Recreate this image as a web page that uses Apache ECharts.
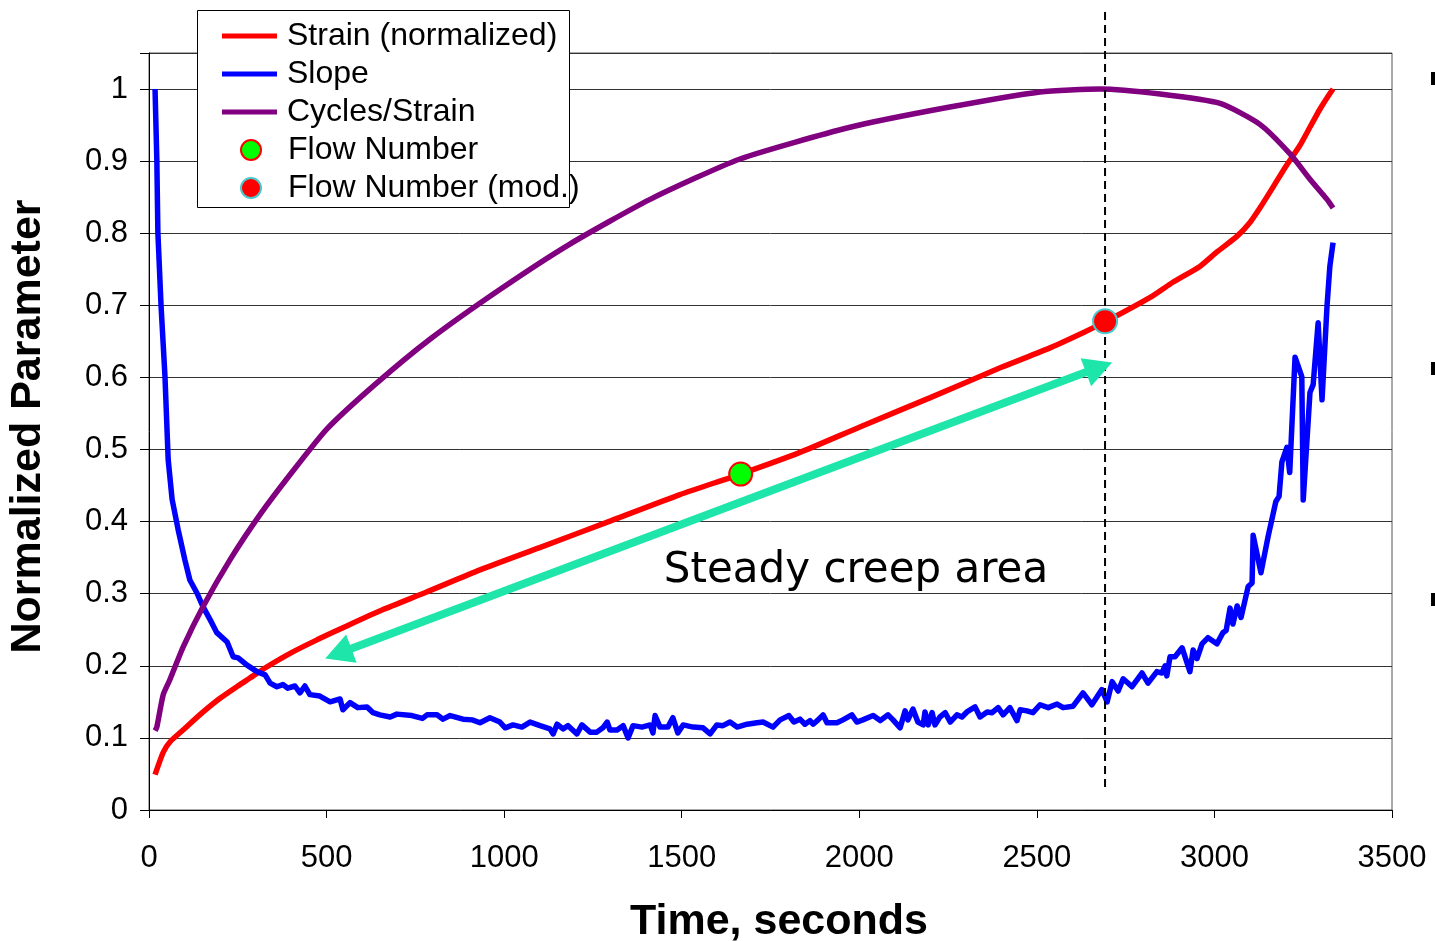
<!DOCTYPE html>
<html>
<head>
<meta charset="utf-8">
<script src="https://cdn.jsdelivr.net/npm/echarts@6/dist/echarts.min.js"></script>
<style>
html,body{margin:0;padding:0;background:#fff;}
#chart{width:1435px;height:941px;}
</style>
</head>
<body>
<div id="chart"></div>
<script>
// ---- data ----
const strainX = [17,40,60,96,150,200,250,284,330,400,473,560,659,780,932,1100,1300,1495,1666,1833,2000,2200,2400,2537,2630,2692,2819,2883,2959,3007,3064,3100,3128,3165,3200,3241,3270,3297,3320,3334];
const strainY = [0.049,0.08,0.095,0.111,0.135,0.155,0.172,0.183,0.198,0.218,0.236,0.256,0.278,0.302,0.333,0.364,0.401,0.4375,0.466,0.496,0.531,0.572,0.614,0.641,0.662,0.677,0.711,0.732,0.754,0.774,0.796,0.815,0.835,0.864,0.892,0.922,0.948,0.972,0.99,1.0];

const cyclesX = [17,22,40,59,96,152,228,313,397,500,636,791,988,1185,1411,1664,1974,2255,2509,2678,2847,3016,3128,3213,3269,3317,3334];
const cyclesY = [0.11,0.115,0.16,0.181,0.226,0.282,0.347,0.41,0.465,0.528,0.59,0.653,0.722,0.785,0.847,0.903,0.947,0.975,0.996,1.0,0.993,0.98,0.951,0.91,0.875,0.847,0.835];

const slopeX = [17,22,25,34,45,54,65,82,101,115,135,152,172,191,220,237,251,276,304,327,341,360,377,391,411,425,439,453,481,510,538,546,566,588,614,631,650,679,698,740,770,783,811,828,848,884,910,932,960,988,1003,1025,1050,1073,1101,1129,1138,1149,1166,1180,1205,1219,1242,1261,1278,1290,1298,1318,1335,1349,1363,1388,1411,1419,1425,1439,1461,1475,1489,1504,1532,1560,1580,1599,1616,1636,1656,1684,1712,1729,1757,1777,1802,1816,1833,1847,1861,1870,1884,1898,1909,1937,1954,1979,1993,2010,2039,2059,2081,2095,2115,2129,2137,2151,2165,2180,2185,2194,2205,2213,2227,2242,2256,2275,2289,2303,2326,2340,2360,2374,2391,2405,2424,2444,2453,2472,2489,2509,2532,2557,2574,2602,2630,2655,2683,2698,2712,2729,2743,2768,2796,2813,2838,2852,2861,2866,2875,2889,2909,2931,2940,2951,2965,2982,3007,3024,3033,3044,3052,3064,3075,3095,3106,3109,3131,3151,3173,3182,3190,3204,3212,3227,3246,3250,3269,3278,3292,3303,3317,3325,3334];
const slopeY = [1.0,0.903,0.801,0.699,0.601,0.486,0.431,0.389,0.347,0.319,0.301,0.282,0.264,0.246,0.233,0.2125,0.211,0.201,0.192,0.1875,0.176,0.171,0.174,0.169,0.172,0.1625,0.172,0.16,0.158,0.15,0.154,0.139,0.149,0.142,0.143,0.135,0.132,0.129,0.133,0.131,0.127,0.132,0.132,0.126,0.131,0.126,0.125,0.121,0.128,0.122,0.114,0.118,0.115,0.122,0.117,0.1125,0.1055,0.119,0.1125,0.117,0.1055,0.118,0.108,0.108,0.114,0.122,0.111,0.111,0.117,0.1,0.117,0.115,0.118,0.107,0.131,0.115,0.115,0.128,0.107,0.118,0.115,0.114,0.1055,0.118,0.117,0.122,0.115,0.119,0.121,0.122,0.115,0.125,0.131,0.122,0.126,0.119,0.124,0.119,0.125,0.132,0.121,0.121,0.125,0.132,0.122,0.125,0.131,0.124,0.132,0.125,0.114,0.1375,0.125,0.14,0.122,0.118,0.136,0.118,0.135,0.118,0.129,0.135,0.122,0.132,0.129,0.136,0.143,0.129,0.136,0.135,0.142,0.132,0.142,0.124,0.139,0.1375,0.135,0.146,0.142,0.147,0.142,0.144,0.1625,0.146,0.167,0.15,0.178,0.165,0.182,0.171,0.19,0.176,0.192,0.19,0.2,0.186,0.2125,0.2125,0.225,0.192,0.222,0.21,0.2305,0.239,0.2305,0.246,0.249,0.28,0.258,0.283,0.267,0.31,0.315,0.381,0.329,0.379,0.428,0.435,0.483,0.503,0.468,0.628,0.601,0.43,0.579,0.59,0.676,0.569,0.699,0.754,0.787];

const flowNumber = [1666, 0.466];
const flowNumberMod = [2692, 0.678];
// arrow ends (centres of the arrowheads)
const arrowFrom = [2675, 0.614];
const arrowTo = [533, 0.217];

const xTicks = {min: 0, max: 3500, step: 500};
const yTicks = {min: 0, max: 1.05, step: 0.1};

const names = ['Strain (normalized)', 'Slope', 'Cycles/Strain', 'Flow Number', 'Flow Number (mod.)'];

function pairs(xs, ys) { return xs.map((x, i) => [x, ys[i]]); }

const FONT = 'Liberation Sans, Arial, sans-serif';
const chart = echarts.init(document.getElementById('chart'), null, {renderer: 'canvas'});

const option = {
  animation: false,
  backgroundColor: '#fff',
  grid: [
    {left: 149, right: 43, top: 53, bottom: 131, show: true, borderColor: '#555', borderWidth: 1,
     backgroundColor: 'transparent', containLabel: false, outerBoundsMode: 'none'},
    {left: 149, right: 43, top: 8, bottom: 154, show: false, containLabel: false, outerBoundsMode: 'none'}
  ],
  xAxis: [
    {
      type: 'value', gridIndex: 0, min: xTicks.min, max: xTicks.max, interval: xTicks.step,
      axisLine: {show: true, lineStyle: {color: '#000', width: 1}},
      axisTick: {show: true, inside: false, length: 8, lineStyle: {color: '#000'}},
      splitLine: {show: false},
      axisLabel: {color: '#000', fontSize: 31, fontFamily: FONT, margin: 33, formatter: v => String(v)},
      name: 'Time, seconds', nameLocation: 'middle', nameGap: 91,
      nameTextStyle: {color: '#000', fontSize: 43, fontWeight: 'bold', fontFamily: FONT, padding: [0, 0, 0, 17]}
    },
    {type: 'value', gridIndex: 1, min: xTicks.min, max: xTicks.max, show: false}
  ],
  yAxis: [
    {
      type: 'value', gridIndex: 0, min: yTicks.min, max: yTicks.max, interval: yTicks.step,
      axisLine: {show: true, lineStyle: {color: '#000', width: 1}},
      axisTick: {show: true, inside: false, length: 9, lineStyle: {color: '#000'}},
      splitLine: {show: true, lineStyle: {color: '#333', width: 1}},
      axisLabel: {
        color: '#000', fontSize: 31, fontFamily: FONT, margin: 21,
        formatter: v => (v > 1.0001 ? '' : String(+v.toFixed(1)))
      },
      name: 'Normalized Parameter', nameLocation: 'middle', nameGap: 99, nameRotate: 90,
      nameTextStyle: {color: '#000', fontSize: 43, fontWeight: 'bold', fontFamily: FONT, padding: [0, 0, 0, 10]}
    },
    {type: 'value', gridIndex: 1, min: 0, max: 1, show: false}
  ],
  legend: [
    {
      data: names.slice(0, 3).map(n => ({name: n, icon: 'rect'})),
      orient: 'vertical', left: 222, top: 20, padding: 0,
      itemWidth: 55, itemHeight: 5, itemGap: 6,
      textStyle: {color: '#000', fontSize: 32, fontFamily: FONT, lineHeight: 30, padding: [0, 0, 0, 5]},
      selectedMode: false
    },
    {
      data: names.slice(3).map(n => ({name: n, icon: 'circle'})),
      orient: 'vertical', left: 240, top: 134, padding: 0,
      itemWidth: 20, itemHeight: 20, itemGap: 6,
      textStyle: {color: '#000', fontSize: 32, fontFamily: FONT, lineHeight: 30, padding: [0, 0, 0, 22]},
      selectedMode: false
    }
  ],
  graphic: [
    {type: 'rect', z: 3, shape: {x: 197.5, y: 10.5, width: 372, height: 197}, style: {fill: '#fff', stroke: '#000', lineWidth: 1}},
    {type: 'text', z: 3, x: 856, y: 571, style: {text: 'Steady creep area', font: '42px DejaVu Sans', fill: '#000', textAlign: 'center', textVerticalAlign: 'middle'}},
    {type: 'rect', z: 3, shape: {x: 1431, y: 72, width: 4, height: 13}, style: {fill: '#000'}},
    {type: 'rect', z: 3, shape: {x: 1431, y: 362, width: 4, height: 13}, style: {fill: '#000'}},
    {type: 'rect', z: 3, shape: {x: 1431, y: 593, width: 4, height: 13}, style: {fill: '#000'}}
  ],
  series: [
    {
      name: names[0], type: 'line', xAxisIndex: 0, yAxisIndex: 0, data: pairs(strainX, strainY),
      showSymbol: false, symbol: 'none', smooth: 0.2, color: '#ff0000',
      lineStyle: {color: '#ff0000', width: 5.5}, z: 3
    },
    {
      name: names[1], type: 'line', xAxisIndex: 0, yAxisIndex: 0, data: pairs(slopeX, slopeY),
      showSymbol: false, symbol: 'none', color: '#0000ff',
      lineStyle: {color: '#0000ff', width: 5.5, join: 'round'}, z: 3
    },
    {
      name: names[2], type: 'line', xAxisIndex: 0, yAxisIndex: 0, data: pairs(cyclesX, cyclesY),
      showSymbol: false, symbol: 'none', smooth: 0.2, color: '#800080',
      lineStyle: {color: '#800080', width: 5.5}, z: 3
    },
    {
      name: names[3], type: 'scatter', xAxisIndex: 0, yAxisIndex: 0, data: [flowNumber],
      symbol: 'circle', symbolSize: 23, z: 5,
      itemStyle: {color: '#00ff00', borderColor: '#ff0000', borderWidth: 2, opacity: 1},
      markLine: {
        silent: true, symbol: ['triangle', 'triangle'], symbolSize: [30, 28],
        label: {show: false},
        lineStyle: {color: '#1ee6aa', width: 8, type: 'solid'},
        data: [[{coord: arrowFrom}, {coord: arrowTo}]]
      }
    },
    {
      name: names[4], type: 'scatter', xAxisIndex: 0, yAxisIndex: 0, data: [flowNumberMod],
      symbol: 'circle', symbolSize: 24, z: 5,
      itemStyle: {color: '#ff0000', borderColor: '#4cc8cc', borderWidth: 2, opacity: 1}
    },
    {
      name: 'flowLine', type: 'line', xAxisIndex: 1, yAxisIndex: 1,
      data: [[flowNumberMod[0], 0], [flowNumberMod[0], 1]],
      showSymbol: false, symbol: 'none', silent: true,
      lineStyle: {color: '#000', width: 2, type: [8, 5]}, z: 4
    }
  ]
};
chart.setOption(option);
</script>
</body>
</html>
